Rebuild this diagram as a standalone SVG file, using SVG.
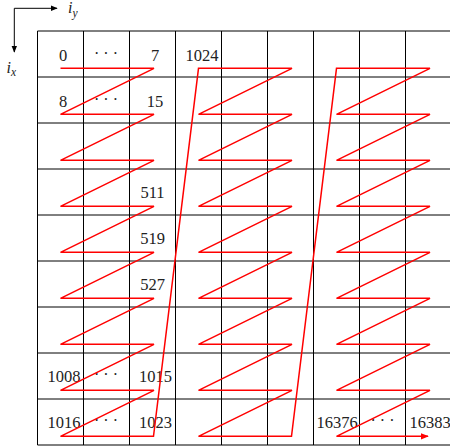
<svg xmlns="http://www.w3.org/2000/svg" width="450" height="448" viewBox="0 0 450 448">
<defs>
<style>
.grid{stroke:#000;stroke-width:1;fill:none}
.z{stroke:#f00;stroke-width:1.5;fill:none;stroke-linejoin:miter}
.ax{stroke:#000;stroke-width:1;fill:none}
.t{font-size:16.5px;fill:#222}
.dots{font-size:16px;fill:#222}
.m{font-style:italic;fill:#222}
</style>
<marker id="ah" viewBox="0 0 10 10" refX="9" refY="5" markerWidth="7" markerHeight="7" markerUnits="userSpaceOnUse" orient="auto">
<path d="M0,1 L10,5 L0,9 Z" fill="#000"/>
</marker>
<marker id="rh" viewBox="0 0 10 10" refX="9" refY="5" markerWidth="8" markerHeight="8" markerUnits="userSpaceOnUse" orient="auto">
<path d="M0,1 L10,5 L0,9 Z" fill="#f00"/>
</marker>
</defs>
<g id="axes">
<path class="ax" d="M14.3,8.3 H57" marker-end="url(#ah)"/>
<path class="ax" d="M14.3,8.3 V52" marker-end="url(#ah)"/>
<text class="m" font-family="Liberation Serif, serif" x="68" y="13" font-size="16">i<tspan font-size="11.5" dy="3.5">y</tspan></text>
<text class="m" font-family="Liberation Serif, serif" x="6.5" y="73" font-size="16">i<tspan font-size="11.5" dy="3">x</tspan></text>
</g>
<g id="grid" class="grid">
<path d="M37.5,31 H452 M37.5,77 H452 M37.5,123 H452 M37.5,169 H452 M37.5,215 H452 M37.5,261 H452 M37.5,307 H452 M37.5,353 H452 M37.5,399 H452 M37.5,445 H452"/>
<path d="M37.5,31 V445 M83.5,31 V445 M129.5,31 V445 M175.5,31 V445 M221.5,31 V445 M267.5,31 V445 M313.5,31 V445 M359.5,31 V445 M405.5,31 V445"/>
</g>
<g id="labels">
<g id="cell-0"><text class="t" font-family="Liberation Serif, serif" x="63" y="60.5" text-anchor="middle">0</text></g>
<g id="cell-dots0"><text class="dots" font-family="Liberation Serif, serif" x="106" y="58.5" text-anchor="middle">· · ·</text></g>
<g id="cell-7"><text class="t" font-family="Liberation Serif, serif" x="155" y="60.5" text-anchor="middle">7</text></g>
<g id="cell-1024"><text class="t" font-family="Liberation Serif, serif" x="202" y="60.5" text-anchor="middle">1024</text></g>
<g id="cell-8"><text class="t" font-family="Liberation Serif, serif" x="63" y="106.5" text-anchor="middle">8</text></g>
<g id="cell-dots1"><text class="dots" font-family="Liberation Serif, serif" x="106" y="104.5" text-anchor="middle">· · ·</text></g>
<g id="cell-15"><text class="t" font-family="Liberation Serif, serif" x="155" y="106.5" text-anchor="middle">15</text></g>
<g id="cell-511"><text class="t" font-family="Liberation Serif, serif" x="152.5" y="198" text-anchor="middle">511</text></g>
<g id="cell-519"><text class="t" font-family="Liberation Serif, serif" x="152.5" y="244" text-anchor="middle">519</text></g>
<g id="cell-527"><text class="t" font-family="Liberation Serif, serif" x="152.5" y="290" text-anchor="middle">527</text></g>
<g id="cell-1008"><text class="t" font-family="Liberation Serif, serif" x="64" y="382" text-anchor="middle">1008</text></g>
<g id="cell-dots7"><text class="dots" font-family="Liberation Serif, serif" x="106" y="380" text-anchor="middle">· · ·</text></g>
<g id="cell-1015"><text class="t" font-family="Liberation Serif, serif" x="155.5" y="382" text-anchor="middle">1015</text></g>
<g id="cell-1016"><text class="t" font-family="Liberation Serif, serif" x="64" y="428" text-anchor="middle">1016</text></g>
<g id="cell-dots8"><text class="dots" font-family="Liberation Serif, serif" x="106" y="426" text-anchor="middle">· · ·</text></g>
<g id="cell-1023"><text class="t" font-family="Liberation Serif, serif" x="155.5" y="428" text-anchor="middle">1023</text></g>
<g id="cell-16376"><text class="t" font-family="Liberation Serif, serif" x="337" y="428" text-anchor="middle">16376</text></g>
<g id="cell-dots-last"><text class="dots" font-family="Liberation Serif, serif" x="382.5" y="426" text-anchor="middle">· · ·</text></g>
<g id="cell-16383"><text class="t" font-family="Liberation Serif, serif" x="409.5" y="428">16383</text></g>
</g>
<g id="connectors">
<path class="z" d="M60.5,68.3 H154 L60.5,114.3 H154 L60.5,160.3 H154 L60.5,206.3 H154 L60.5,252.3 H154 L60.5,298.3 H154 L60.5,344.3 H154 L60.5,390.3 H154 L60.5,436.3 H153.5 L198.5,68.3 H292 L198.5,114.3 H292 L198.5,160.3 H292 L198.5,206.3 H292 L198.5,252.3 H292 L198.5,298.3 H292 L198.5,344.3 H292 L198.5,390.3 H292 L198.5,436.3 H291.5 L336.5,68.3 H430 L336.5,114.3 H430 L336.5,160.3 H430 L336.5,206.3 H430 L336.5,252.3 H430 L336.5,298.3 H430 L336.5,344.3 H430 L336.5,390.3 H430 L336.5,436.3 H428" marker-end="url(#rh)"/>
</g>
</svg>
